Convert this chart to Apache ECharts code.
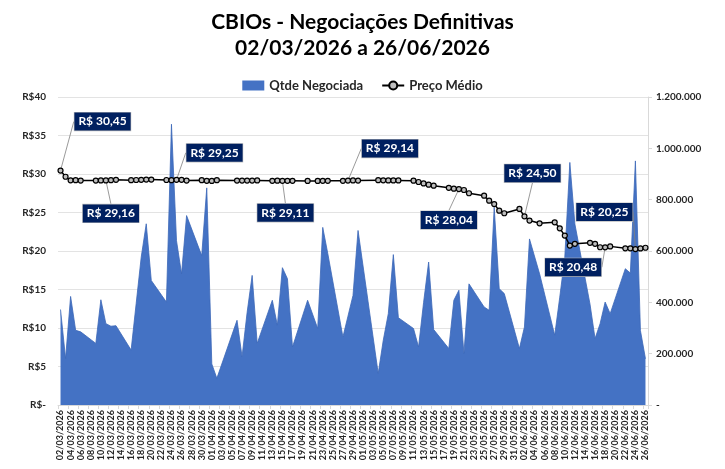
<!DOCTYPE html>
<html>
<head>
<meta charset="utf-8">
<script src="https://cdn.jsdelivr.net/npm/echarts@6/dist/echarts.min.js"></script>
<style>
  html, body { margin: 0; background: #fff; }
  #chart { width: 725px; height: 469px; }
</style>
</head>
<body>
<div id="chart"></div>
<script>
// pregões com negociação (dd/mm de 2026)
const YEAR = 2026;
const tradeDates = [
    '02/03','03/03','04/03','05/03','06/03','09/03','10/03','11/03','12/03','13/03',
    '16/03','17/03','18/03','19/03','20/03','23/03','24/03','25/03','26/03','27/03',
    '30/03','31/03','01/04','02/04','06/04','07/04','08/04','09/04','10/04','13/04',
    '14/04','15/04','16/04','17/04','20/04','22/04','23/04','24/04','27/04','28/04',
    '29/04','30/04','04/05','05/05','06/05','07/05','08/05','11/05','12/05','13/05',
    '14/05','15/05','18/05','19/05','20/05','21/05','22/05','25/05','26/05','27/05',
    '28/05','29/05','01/06','02/06','03/06','05/06','08/06','09/06','10/06','11/06',
    '12/06','15/06','16/06','17/06','18/06','19/06','22/06','23/06','24/06','25/06',
    '26/06'
];

// Qtde Negociada (CBIOs)
const qtdeNegociada = [
    372000, 181000, 423000, 291000, 285000, 240000, 410000, 317000, 307000, 309000,
    214000, 395000, 576000, 706000, 485000, 401000, 1094000, 640000, 511000, 738000,
    582000, 846000, 160000, 104000, 330000, 188000, 360000, 505000, 240000, 408000,
    311000, 535000, 492000, 226000, 408000, 298000, 692000, 590000, 265000, 346000,
    427000, 680000, 123000, 252000, 356000, 586000, 340000, 298000, 226000, 400000,
    557000, 294000, 220000, 408000, 447000, 201000, 472000, 382000, 369000, 770000,
    453000, 434000, 220000, 304000, 647000, 511000, 272000, 420000, 576000, 945000,
    705000, 393000, 259000, 317000, 401000, 356000, 531000, 514000, 951000, 290000,
    180000
];

// Preço Médio (R$)
const precoMedio = [
    30.45, 29.64, 29.18, 29.20, 29.15, 29.14, 29.16, 29.16, 29.20, 29.25,
    29.20, 29.22, 29.25, 29.28, 29.28, 29.22, 29.20, 29.25, 29.24, 29.15,
    29.20, 29.12, 29.10, 29.20, 29.15, 29.14, 29.15, 29.15, 29.16, 29.12,
    29.13, 29.11, 29.12, 29.12, 29.10, 29.10, 29.12, 29.12, 29.12, 29.14,
    29.16, 29.14, 29.20, 29.18, 29.16, 29.16, 29.16, 29.13, 28.96, 28.78,
    28.61, 28.48, 28.20, 28.10, 28.04, 27.92, 27.50, 27.18, 26.54, 26.10,
    25.24, 24.90, 25.46, 24.50, 23.95, 23.60, 23.73, 22.95, 22.00, 20.71,
    20.93, 21.06, 20.93, 20.49, 20.48, 20.60, 20.35, 20.35, 20.25, 20.33,
    20.42
];

// rótulos destacados: deslocamento da caixa em relação ao ponto
const labelOffsets = {
    '02/03': [42, -49],
    '11/03': [5, 33],
    '25/03': [38, -27],
    '15/04': [3, 32],
    '28/04': [42, -32],
    '20/05': [-10, 31],
    '02/06': [8, -43],
    '18/06': [-32, 20],
    '24/06': [-31, -37]
};

const pad = n => String(n).padStart(2, '0');

// eixo de datas corridas, como o eixo de data do Excel
function buildCalendar(first, last) {
    const out = [];
    const d = new Date(YEAR, first[1] - 1, first[0]);
    const end = new Date(YEAR, last[1] - 1, last[0]);
    while (d <= end) {
        out.push(pad(d.getDate()) + '/' + pad(d.getMonth() + 1));
        d.setDate(d.getDate() + 1);
    }
    return out;
}

const calendar = buildCalendar([2, 3], [26, 6]);
const categories = calendar.map(c => c + '/' + YEAR);

const qtdeSeries = calendar.map(c => {
    const i = tradeDates.indexOf(c);
    return i >= 0 ? qtdeNegociada[i] : null;
});
const precoSeries = calendar.map(c => {
    const i = tradeDates.indexOf(c);
    if (i < 0) return null;
    return labelOffsets[c]
        ? { value: precoMedio[i], label: { show: true } }
        : precoMedio[i];
});

const fmtThousands = v => v === 0 ? '-' : String(v).replace(/\B(?=(\d{3})+(?!\d))/g, '.');
const fmtReal = v => 'R$ ' + v.toFixed(2).replace('.', ',');

const chartDom = document.getElementById('chart');
const myChart = echarts.init(chartDom);

const axisText = { color: '#262626', fontSize: 10, fontWeight: 'bold', fontFamily: 'Lato' };

const option = {
    animation: false,
    backgroundColor: '#fff',
    title: {
        text: 'CBIOs - Negociações Definitivas\n02/03/2026 a 26/06/2026',
        left: 'center',
        top: 4,
        textStyle: {
            fontFamily: 'Lato',
            fontSize: 21,
            fontWeight: 'bold',
            color: '#000',
            lineHeight: 26
        }
    },
    legend: {
        top: 74,
        left: 'center',
        itemGap: 18,
        itemWidth: 22,
        itemHeight: 10,
        textStyle: { fontFamily: 'Lato', fontSize: 13, fontWeight: 'bold', color: '#262626' },
        data: [
            { name: 'Qtde Negociada', icon: 'rect' },
            { name: 'Preço Médio' }
        ]
    },
    grid: { left: 58, right: 77, top: 97, bottom: 64, containLabel: false },
    xAxis: {
        type: 'category',
        data: categories,
        boundaryGap: true,
        axisLine: { show: true, lineStyle: { color: '#d9d9d9' } },
        axisTick: { show: true, interval: 1, length: 4, lineStyle: { color: '#d9d9d9' } },
        axisLabel: { ...axisText, fontSize: 9, interval: 1, rotate: 90, margin: 5 },
        splitLine: { show: false }
    },
    yAxis: [
        {
            type: 'value',
            min: 0,
            max: 40,
            interval: 5,
            axisLine: { show: false },
            axisTick: { show: false },
            axisLabel: { ...axisText, margin: 12, formatter: v => v === 0 ? 'R$-' : 'R$' + v },
            splitLine: { show: true, lineStyle: { color: '#e3e3e3', width: 1 } }
        },
        {
            type: 'value',
            min: 0,
            max: 1200000,
            interval: 200000,
            position: 'right',
            axisLine: { show: true, lineStyle: { color: '#d9d9d9' } },
            axisTick: { show: true, length: 4, lineStyle: { color: '#d9d9d9' } },
            axisLabel: { ...axisText, margin: 8, formatter: fmtThousands },
            splitLine: { show: false }
        }
    ],
    series: [
        {
            name: 'Qtde Negociada',
            type: 'line',
            yAxisIndex: 1,
            data: qtdeSeries,
            connectNulls: true,
            symbol: 'none',
            z: 1,
            itemStyle: { color: '#4472C4' },
            lineStyle: { color: '#3b67b8', width: 0.8 },
            areaStyle: { color: '#4472C4', opacity: 1 }
        },
        {
            name: 'Preço Médio',
            type: 'line',
            yAxisIndex: 0,
            data: precoSeries,
            connectNulls: true,
            symbol: 'circle',
            symbolSize: 5,
            showAllSymbol: true,
            z: 3,
            itemStyle: { color: '#bfbfbf', borderColor: '#000', borderWidth: 1.2 },
            lineStyle: { color: '#000', width: 1.5 },
            label: {
                show: false,
                position: 'inside',
                formatter: p => fmtReal(p.value),
                backgroundColor: '#002060',
                borderColor: '#bfbfbf',
                borderWidth: 0.6,
                padding: [3, 4],
                color: '#fff',
                fontFamily: 'Lato',
                fontWeight: 'bold',
                fontSize: 12
            },
            labelLine: { show: true, lineStyle: { color: '#808080', width: 0.8 } },
            labelLayout: p => {
                const off = labelOffsets[calendar[p.dataIndex]];
                return off ? { dx: off[0], dy: off[1] } : {};
            }
        }
    ]
};

myChart.setOption(option);
</script>
</body>
</html>
